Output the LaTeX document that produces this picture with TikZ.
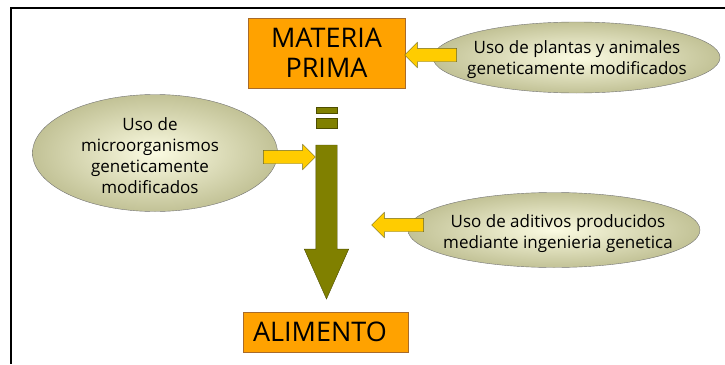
\documentclass[tikz,border=0pt]{standalone}
\usepackage{fontspec}
\setmainfont{Open Sans}
\usetikzlibrary{shapes.geometric,shapes.arrows}

\definecolor{naranja}{HTML}{FFA200}
\definecolor{borde}{HTML}{A86B2A}
\definecolor{amarillo}{HTML}{FFCC00}
\definecolor{oliva}{HTML}{808000}
\definecolor{crema}{HTML}{FBFBE2}
\definecolor{verdoso}{HTML}{C2C296}

\tikzset{%
  caja/.style={draw=borde, fill=naranja, line width=1pt, font=\fontsize{27}{30}\selectfont, align=center},
  globo/.style={ellipse, draw=black!55, inner color=crema, outer color=verdoso, inner sep=0pt},
  texto/.style={font=\fontsize{17}{21}\selectfont, align=center},
  flecha/.style={single arrow, draw=olive!70!black, fill=amarillo, inner sep=0pt, inner ysep=6.5pt, single arrow head extend=6pt, minimum height=52pt},
  barra/.style={draw=oliva!60!black, fill=oliva},
}

\begin{document}
\begin{tikzpicture}[x=1pt,y=-1pt]
\useasboundingbox (0,0) rectangle (725,364);
% marco
\draw[line width=2pt] (725,8) -- (11,8) -- (11,364);

% cajas
\node [caja, minimum width=157pt, minimum height=70pt] (prima) at (326.5,53) {MATERIA\\PRIMA};
\node [caja, minimum width=165pt, minimum height=40pt, text width=145pt, align=left, inner xsep=9pt] (alimento) at (325.5,332) {ALIMENTO};

% flecha central
\node [barra, minimum width=21pt, minimum height=6pt, inner sep=0pt] (b1) at (326.5,110) {};
\node [barra, minimum width=21pt, minimum height=10pt, inner sep=0pt] (b2) at (326.5,123) {};
\node [single arrow, barra, rotate=-90, inner sep=0pt, inner ysep=10.5pt, single arrow head extend=11.5pt, single arrow tip angle=48, minimum height=154pt] (proceso) at (326.5,210) {};

% globos
\node [globo, minimum width=287pt, minimum height=71pt] (plantas) at (576.5,57.5) {};
\node [texto] at (577,60) {Uso de plantas y animales\\geneticamente modificados};
\node [globo, minimum width=245pt, minimum height=117pt] (micro) at (155,153) {};
\node [texto] at (150,156) {Uso de\\microorganismos\\geneticamente\\modificados};
\node [globo, minimum width=292pt, minimum height=75pt] (aditivos) at (554,230) {};
\node [texto] at (558,234) {Uso de aditivos producidos\\mediante ingenieria genetica};

% flechas amarillas
\node [flecha, rotate=180] (f1) at (434,55) {};
\node [flecha] (f2) at (286,157) {};
\node [flecha, rotate=180] (f3) at (401,225) {};
\end{tikzpicture}
\end{document}
